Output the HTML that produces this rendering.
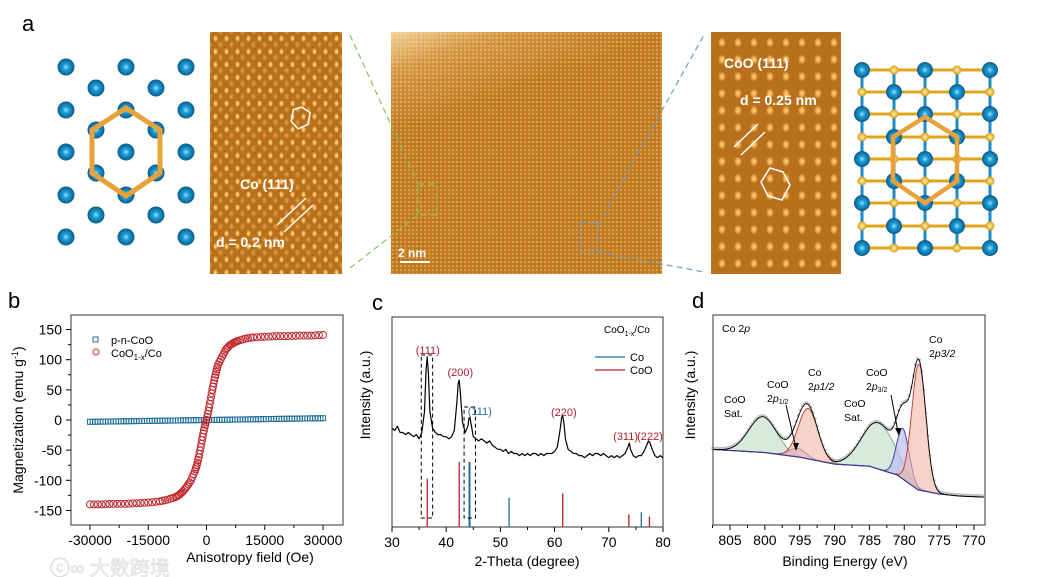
<!DOCTYPE html>
<html><head><meta charset="utf-8">
<style>
html,body{margin:0;padding:0;background:#fff;}
#root{position:relative;width:1041px;height:577px;overflow:hidden;font-family:"Liberation Sans",Arial,sans-serif;}
.img{position:absolute;top:32px;height:242px;}
#tem1{left:210px;width:132px;background-color:#b8701c;
background-image:radial-gradient(ellipse 2.5px 3.5px at 50% 50%,#ffe08a 0,#f2b04a 60%,transparent 100%),radial-gradient(ellipse 3px 4px at 50% 50%,#e9a040 0,transparent 100%);
background-size:11px 13px,11px 13px;background-position:0 0,5px 6px;}
#tem2{left:391px;width:271px;background-color:#c07a22;
background-image:linear-gradient(160deg,rgba(255,230,180,.8) 0,rgba(255,220,160,.3) 12%,transparent 30%),radial-gradient(circle,#f5c067 0,transparent 1.6px),radial-gradient(circle,#a05e12 0,transparent 1.5px);
background-size:100% 100%,4px 4px,5px 5px;}
#tem3{left:711px;width:130px;background-color:#b8701c;
background-image:radial-gradient(ellipse 4px 5px at 50% 50%,#ffd98a 0,#eea848 55%,transparent 100%);
background-size:16px 17px;background-position:3px 2px;}
svg{position:absolute;left:0;top:0;}
</style></head>
<body>
<div id="root">
<div class="img" id="tem1"></div>
<div class="img" id="tem2"></div>
<div class="img" id="tem3"></div>
<svg id="svg" width="1041" height="577" xmlns="http://www.w3.org/2000/svg" font-family="Liberation Sans, Arial, sans-serif">
<defs>
<radialGradient id="ball" cx="50%" cy="50%" r="50%"><stop offset="0" stop-color="#9fe7ff"/><stop offset="0.35" stop-color="#1ea0d8"/><stop offset="1" stop-color="#0a5c8c"/></radialGradient>
<radialGradient id="gball" cx="50%" cy="50%" r="50%"><stop offset="0" stop-color="#fff3b0"/><stop offset="1" stop-color="#d99a10"/></radialGradient>
</defs>
<text x="22" y="31" font-size="22">a</text>
<g id="lat1"></g>
<g id="lat2"></g>
<g fill="#fff" stroke="#fff">
<polygon points="300,107 309,111 309,123 300,129 292,123 292,111" fill="none" stroke-width="1.5" transform="rotate(10 300 118)"/>
<text x="240" y="189" font-size="14" font-weight="bold" stroke="none">Co (111)</text>
<line x1="277" y1="225" x2="306" y2="198" stroke-width="1.5"/><line x1="284" y1="232" x2="313" y2="205" stroke-width="1.5"/>
<text x="216" y="247" font-size="14" font-weight="bold" stroke="none">d = 0.2 nm</text>
<line x1="400" y1="262" x2="430" y2="262" stroke-width="2"/>
<text x="398" y="257" font-size="12" font-weight="bold" stroke="none">2 nm</text>
<text x="724" y="68" font-size="14" font-weight="bold" stroke="none">CoO (111)</text>
<text x="740" y="105" font-size="14" font-weight="bold" stroke="none">d = 0.25 nm</text>
<line x1="734" y1="147" x2="758" y2="124" stroke-width="1.5"/><line x1="741" y1="155" x2="765" y2="132" stroke-width="1.5"/>
<polygon points="770,168 783,172 790,185 782,200 768,196 761,182" fill="none" stroke-width="1.5"/>
</g>
<g fill="none" stroke-dasharray="6,4" stroke-width="1.2">
<path d="M350,35 L418,184 M350,268 L418,215" stroke="#8cc25a"/>
<rect x="418" y="184" width="19" height="31" stroke="#8cc25a"/>
<path d="M598,225 L704,35 M598,252 L704,272" stroke="#6f9bc4"/>
<rect x="580" y="223" width="18" height="29" stroke="#6f9bc4"/>
</g>
<g id="pb"></g>
<g id="pc"></g>
<g id="pd"></g>
<text x="50" y="575" font-size="20" fill="#f8f8f8" stroke="#dcdcdc" stroke-width="0.7" font-family="Liberation Sans, Noto Sans CJK SC, sans-serif">ⓒ∞ 大数跨境</text>
</svg>
</div>
<script>
// ---------- panel b data ----------
const bH = [-30000,-27000,-24000,-21000,-18000,-15000,-12000,-10000,-8000,-7000,-6000,-5000,-4000,-3000,-2500,-2000,-1500,-1000,-500,0,500,1000,1500,2000,2500,3000,4000,5000,6000,7000,8000,10000,12000,15000,18000,21000,24000,27000,30000];
const bM = [-140,-140,-139,-139,-138,-137,-135,-132,-128,-124,-118,-110,-100,-85,-75,-62,-45,-28,-12,0,15,32,50,66,80,92,105,117,124,128,131,135,137,138,139,139,140,140,141];
const bH2 = [-30000,-28000,-26000,-24000,-22000,-20000,-18000,-16000,-14000,-12000,-10000,-8000,-6000,-4000,-2000,0,2000,4000,6000,8000,10000,12000,14000,16000,18000,20000,22000,24000,26000,28000,30000];
const bM2 = [-3,-2.8,-2.6,-2.4,-2.2,-2,-1.8,-1.6,-1.4,-1.2,-1,-0.8,-0.6,-0.4,-0.2,0,0.2,0.4,0.6,0.8,1,1.2,1.4,1.6,1.8,2,2.2,2.4,2.6,2.8,3];
const bXTicks = [-30000,-15000,0,15000,30000];
const bYTicks = [150,100,50,0,-50,-100,-150];
// ---------- panel c data ----------
const cTheta = [30,30.5,31,31.5,32,32.5,33,33.5,34,34.5,35,35.5,36,36.3,36.5,36.7,37,37.5,38,38.5,39,39.5,40,40.5,41,41.5,42,42.2,42.4,42.6,43,43.5,44,44.2,44.4,44.6,45,45.5,46,46.5,47,47.5,48,48.5,49,49.5,50,50.5,51,51.5,52,52.5,53,53.5,54,54.5,55,55.5,56,56.5,57,57.5,58,58.5,59,59.5,60,60.5,61,61.3,61.5,61.7,62,62.5,63,63.5,64,64.5,65,65.5,66,66.5,67,67.5,68,68.5,69,69.5,70,70.5,71,71.5,72,72.5,73,73.5,73.8,74,74.5,75,75.5,76,76.5,77,77.3,77.6,78,78.5,79,79.5,80];
const cInt = [47,46,48,45,45,44,45,44,43,44,42,45,55,75,81,74,55,47,45,44,44,43,43,42,43,46,60,68,70,64,50,45,48,52,52,49,43,42,41,42,41,40,41,39,38,37,37,36,37,35,36,35,35,34,35,34,35,34,35,35,34,35,34,35,35,35,36,38,46,52,53,50,42,37,36,35,35,34,34,33,34,35,34,35,35,34,35,34,33,34,33,34,33,34,35,38,40,37,34,33,34,34,36,39,41,40,37,34,33,34,33];
const cCoOPos = [36.5,42.4,61.5,73.7,77.5];
const cCoOInt = [23,31,16,6,5];
const cCoPos = [44.3,51.6,76.0];
const cCoInt = [31,14,7];
const cXTicks = [30,40,50,60,70,80];
// ---------- panel d data ----------
const dBgE = [807.5,805,800,795,790,785,781,778,775,772,768.5];
const dBgI = [36,35.5,34.5,32.3,29,28,23.8,16.7,14.8,13.8,13.3];
const dPeakNames = ['CoO-sat-1','CoO-2p1-2','Co-2p1-2','CoO-sat-2','CoO-2p3-2','Co-2p3-2'];
const dPeakE = [800.3,795.3,793.8,783.7,780.2,777.9];
const dPeakH = [17,4,24,22,24,60];
const dPeakW = [2.0,1.2,1.4,2.4,0.9,1.0];
const dXTicks = [805,800,795,790,785,780,775,770];

const NS='http://www.w3.org/2000/svg';
function mk(parent,tag,attrs){const e=document.createElementNS(NS,tag);for(const k in attrs)e.setAttribute(k,attrs[k]);parent.appendChild(e);return e;}
function txt(parent,x,y,s,size,extra){const t=mk(parent,'text',Object.assign({x:x,y:y,'font-size':size},extra||{}));t.textContent=s;return t;}

// ---------- lattice models ----------
(function(){
  const g=document.getElementById('lat1');
  const cols=[66,126,186], mids=[96,156];
  const rows=[67,110,152,195,237];
  rows.forEach(y=>cols.forEach(x=>{const c=mk(g,'circle',{cx:x,cy:y,r:8.5,fill:'url(#ball)'});

}));
  [88,130,173,215].forEach(y=>mids.forEach(x=>{const c=mk(g,'circle',{cx:x,cy:y,r:8.5,fill:'url(#ball)'});

}));
  const h=mk(g,'polygon',{points:'126,108 160,130 160,173 126,196 92,173 92,130',fill:'none',stroke:'#e9a23a','stroke-width':5});
  
  
  const g2=document.getElementById('lat2');
  const xs=[862,894,925,957,990], ys=[70,92,114,137,159,181,203,226,248];
  xs.forEach(x=>mk(g2,'line',{x1:x,y1:70,x2:x,y2:248,stroke:'#1e8ac4','stroke-width':3}));
  ys.forEach(y=>mk(g2,'line',{x1:862,y1:y,x2:990,y2:y,stroke:'#e0a41a','stroke-width':3}));
  ys.forEach((y,i)=>xs.forEach((x,j)=>{const big=((i+j)%2===0);
    const c=mk(g2,'circle',{cx:x,cy:y,r:big?8:4.5,fill:big?'url(#ball)':'url(#gball)'});
    
    }));
  const h2=mk(g2,'polygon',{points:'925,117 957,137 957,181 925,203 893,181 893,137',fill:'none',stroke:'#e9a23a','stroke-width':4.5});
  
  
})();

// ---------- panel b ----------
(function(){
  const g=document.getElementById('pb');
  const L=71,R=343,T=315,B=525;
  const x=h=>90+(h+30000)/60000*233;
  const y=m=>420-m*0.603;
  txt(g,8,308,'b',22);
  bXTicks.forEach(v=>{mk(g,'line',{x1:x(v),y1:B,x2:x(v),y2:B+5,stroke:'#000'});txt(g,x(v),B+20,String(v),14,{'text-anchor':'middle'});});
  for(let v=-22500;v<=22500;v+=15000){mk(g,'line',{x1:x(v),y1:B,x2:x(v),y2:B+3,stroke:'#000'});}
  bYTicks.forEach(v=>{mk(g,'line',{x1:L-5,y1:y(v),x2:L,y2:y(v),stroke:'#000'});txt(g,L-9,y(v)+5,String(v),14,{'text-anchor':'end'});});
  for(let v=-125;v<=125;v+=50)mk(g,'line',{x1:L-3,y1:y(v),x2:L,y2:y(v),stroke:'#000'});
  const ax=mk(g,'rect',{x:L,y:T,width:R-L,height:B-T,fill:'none',stroke:'#333','stroke-width':1});
  
  
  const xt=txt(g,250,562,'Anisotropy field (Oe)',14,{'text-anchor':'middle'});
  
  
  const yt=txt(g,0,0,'',14,{'text-anchor':'middle',transform:'translate(23,420) rotate(-90)'});
  yt.innerHTML='Magnetization (emu g<tspan dy="-5" font-size="9">-1</tspan><tspan dy="5">)</tspan>';
  
  
  bH2.forEach((h,i)=>{for(let k=0;k<3;k++){const hh=h+k*670;if(hh>30000)break;
    const s=mk(g,'rect',{x:x(hh)-2.5,y:y(bM2[i]+k*0.05)-2.5,width:5,height:5,fill:'none',stroke:'#1f6e9a','stroke-width':1});
    
    }});
  bH.forEach((h,i)=>{const c=mk(g,'circle',{cx:x(h),cy:y(bM[i]),r:3.5,fill:'none',stroke:'#c0282d','stroke-width':1});
    
    
    if(i<bH.length-1){for(let k=1;k<3;k++){const t=k/3;const c2=mk(g,'circle',{cx:x(h+(bH[i+1]-h)*t),cy:y(bM[i]+(bM[i+1]-bM[i])*t),r:3.5,fill:'none',stroke:'#c0282d','stroke-width':1});
      
      }}});
  const l1=mk(g,'rect',{x:93,y:337,width:5,height:5,fill:'none',stroke:'#1f6e9a'});
  
  
  txt(g,111,344,'p-n-CoO',11);
  const l2=mk(g,'circle',{cx:96,cy:352,r:3,fill:'none',stroke:'#c0282d'});
  
  
  const lt=txt(g,111,357,'',11);lt.innerHTML='CoO<tspan font-size="8" dy="3">1-x</tspan><tspan dy="-3">/Co</tspan>';
})();

// ---------- panel c ----------
(function(){
  const g=document.getElementById('pc');
  const L=392,R=663,T=317,B=527;
  const x=t=>L+(t-30)*(R-L)/50;
  const y=v=>B-v*2.1;
  txt(g,372,310,'c',22);
  cXTicks.forEach(v=>{mk(g,'line',{x1:x(v),y1:B,x2:x(v),y2:B+5,stroke:'#000'});txt(g,x(v),B+20,String(v),14,{'text-anchor':'middle'});});
  for(let v=35;v<80;v+=10)mk(g,'line',{x1:x(v),y1:B,x2:x(v),y2:B+3,stroke:'#000'});
  const ax=mk(g,'rect',{x:L,y:T,width:R-L,height:B-T,fill:'none',stroke:'#333'});
  
  
  const xt=txt(g,527,566,'2-Theta (degree)',14,{'text-anchor':'middle'});
  
  
  const yt=txt(g,0,0,'Intensity (a.u.)',14,{'text-anchor':'middle',transform:'translate(370,395) rotate(-90)'});
  
  
  cCoOPos.forEach((p,i)=>{const l=mk(g,'line',{x1:x(p),y1:B,x2:x(p),y2:y(cCoOInt[i]),stroke:'#b0202a','stroke-width':1.3});
    
    });
  cCoPos.forEach((p,i)=>{const l=mk(g,'line',{x1:x(p),y1:B,x2:x(p),y2:y(cCoInt[i]),stroke:'#1f6e9a','stroke-width':i===0?2:1.3});
    
    });
  let d='';cTheta.forEach((t,i)=>{d+=(i?'L':'M')+x(t).toFixed(1)+','+y(cInt[i]).toFixed(1);});
  const pl=mk(g,'path',{d:d,fill:'none',stroke:'#000','stroke-width':1.2,'stroke-linejoin':'round'});
  
  
  const b1=mk(g,'rect',{x:x(35.4),y:355,width:x(37.5)-x(35.4),height:163,fill:'none',stroke:'#000','stroke-dasharray':'4,3'});
  
  
  const b2=mk(g,'rect',{x:x(43.3),y:407,width:x(45.4)-x(43.3),height:111,fill:'none',stroke:'#000','stroke-dasharray':'4,3'});
  
  
  const red='#b0202a';
  txt(g,x(36.6),354,'(111)',11,{'text-anchor':'middle',fill:red});
  txt(g,x(42.6),376,'(200)',11,{'text-anchor':'middle',fill:red});
  txt(g,x(46.2),415,'(111)',11,{'text-anchor':'middle',fill:'#1f6e9a'});
  txt(g,x(61.7),416,'(220)',11,{'text-anchor':'middle',fill:red});
  txt(g,x(73.1),440,'(311)',11,{'text-anchor':'middle',fill:red});
  txt(g,x(77.6),440,'(222)',11,{'text-anchor':'middle',fill:red});
  const lg=txt(g,604,333,'',10);lg.innerHTML='CoO<tspan font-size="7" dy="3">1-x</tspan><tspan dy="-3">/Co</tspan>';
  mk(g,'line',{x1:595,y1:357,x2:625,y2:357,stroke:'#1f6e9a','stroke-width':1.3});
  txt(g,630,361,'Co',11);
  mk(g,'line',{x1:595,y1:370,x2:625,y2:370,stroke:'#b0202a','stroke-width':1.3});
  txt(g,630,374,'CoO',11);
})();

// ---------- panel d ----------
(function(){
  const g=document.getElementById('pd');
  const L=713,R=985,T=315,B=525;
  const x=e=>730+(805-e)*6.97;
  const y=v=>B-v*2.1;
  txt(g,692,308,'d',22);
  dXTicks.forEach(v=>{mk(g,'line',{x1:x(v),y1:B,x2:x(v),y2:B+5,stroke:'#000'});txt(g,x(v),B+20,String(v),14,{'text-anchor':'middle'});});
  for(let v=807.5;v>768;v-=5)mk(g,'line',{x1:x(v),y1:B,x2:x(v),y2:B+3,stroke:'#000'});
  const xt=txt(g,845,566,'Binding Energy (eV)',14,{'text-anchor':'middle'});
  
  
  const yt=txt(g,0,0,'Intensity (a.u.)',14,{'text-anchor':'middle',transform:'translate(695,395) rotate(-90)'});
  
  
  function bg(e){for(let i=0;i<dBgE.length-1;i++){if(e<=dBgE[i]&&e>=dBgE[i+1]){const t=(dBgE[i]-e)/(dBgE[i]-dBgE[i+1]);return dBgI[i]+(dBgI[i+1]-dBgI[i])*t;}}return dBgI[dBgI.length-1];}
  function pk(i,e){const u=(e-dPeakE[i])/dPeakW[i];return dPeakH[i]*Math.exp(-0.5*u*u);}
  const Es=[];for(let e=807.5;e>=768.5;e-=0.1)Es.push(e);
  const fills=['rgba(190,220,195,0.6)','rgba(200,190,225,0.6)','rgba(240,180,165,0.6)','rgba(190,220,195,0.6)','rgba(190,190,235,0.7)','rgba(240,180,165,0.6)'];
  const strokes=['#7fa98a','#5a4aa0','#c0392b','#7fa98a','#3333aa','#c0392b'];
  dPeakE.forEach((c,i)=>{
    let d='';Es.forEach((e,k)=>{d+=(k?'L':'M')+x(e).toFixed(1)+','+y(bg(e)+pk(i,e)).toFixed(1);});
    let back='';for(let k=Es.length-1;k>=0;k--)back+='L'+x(Es[k]).toFixed(1)+','+y(bg(Es[k])).toFixed(1);
    const a=mk(g,'path',{d:d+back+'Z',fill:fills[i],stroke:'none'});
    
    
    const l=mk(g,'path',{d:d,fill:'none',stroke:strokes[i],'stroke-width':0.9});
    
    
  });
  let bd='';Es.forEach((e,k)=>{bd+=(k?'L':'M')+x(e).toFixed(1)+','+y(bg(e)).toFixed(1);});
  const bl=mk(g,'path',{d:bd,fill:'none',stroke:'#3a3a9a','stroke-width':1.2});
  
  
  const tot=e=>{let s=bg(e);dPeakE.forEach((c,i)=>s+=pk(i,e));return s;};
  for(let k=0;k<Es.length;k+=3){const e=Es[k];const c=mk(g,'circle',{cx:x(e),cy:y(tot(e))-1.2,r:1.2,fill:'#d0d0d0',stroke:'#999','stroke-width':0.4});
    
    }
  let td='';Es.forEach((e,k)=>{td+=(k?'L':'M')+x(e).toFixed(1)+','+y(tot(e)).toFixed(1);});
  const tl=mk(g,'path',{d:td,fill:'none',stroke:'#000','stroke-width':0.9});
  
  
  const ax=mk(g,'rect',{x:L,y:T,width:R-L,height:B-T,fill:'none',stroke:'#333'});
  
  
  const s=10.5;
  const t0=txt(g,722,332,'',s);t0.innerHTML='Co 2<tspan font-style="italic">p</tspan>';
  txt(g,724,403,'CoO',s);txt(g,724,417,'Sat.',s);
  txt(g,767,388,'CoO',s);const a1=txt(g,767,402,'',s);a1.innerHTML='2<tspan font-style="italic">p</tspan><tspan font-size="7" dy="2">1/2</tspan>';
  txt(g,808,376,'Co',s);const a2=txt(g,808,390,'',s);a2.innerHTML='2<tspan font-style="italic">p1/2</tspan>';
  txt(g,844,407,'CoO',s);txt(g,844,421,'Sat.',s);
  txt(g,866,376,'CoO',s);const a3=txt(g,866,390,'',s);a3.innerHTML='2<tspan font-style="italic">p</tspan><tspan font-size="7" dy="2">3/2</tspan>';
  txt(g,929,343,'Co',s);const a4=txt(g,929,357,'',s);a4.innerHTML='2<tspan font-style="italic">p3/2</tspan>';
  mk(g,'line',{x1:786,y1:405,x2:796,y2:448,stroke:'#000'});
  mk(g,'polygon',{points:'796,451 793,443 799,443',fill:'#000'});
  mk(g,'line',{x1:891,y1:395,x2:898,y2:432,stroke:'#000'});
  mk(g,'polygon',{points:'899,436 895,428 901,428',fill:'#000'});
})();
</script>
</body></html>
